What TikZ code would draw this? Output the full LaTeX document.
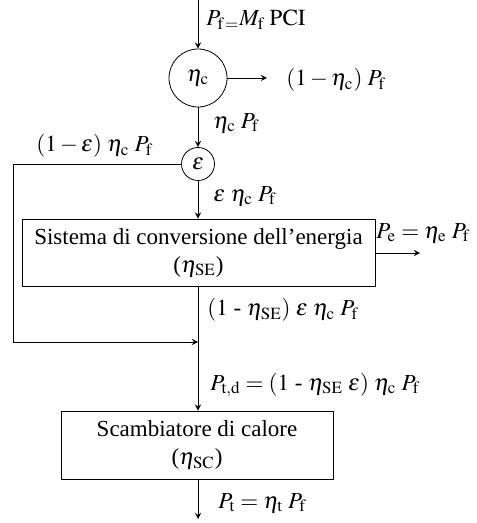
\documentclass[tikz,border=0pt]{standalone}
\usepackage{mathptmx}
\usepackage[no-math]{fontspec}
\setmainfont{Liberation Serif}
\begin{document}
\begin{tikzpicture}[>=stealth, x=0.5pt, y=-0.5pt, font=\fontsize{11.5}{14}\selectfont]
      \tikzset{blk/.style={draw, align=center, inner sep=0pt},
               junct/.style={draw, circle, inner sep=0pt},
               lbl/.style={anchor=west, inner sep=0pt}}
      \useasboundingbox (0,0) rectangle (476,523);
      % flussi
      \coordinate (in) at (198,0);
      \node[junct, minimum size=29pt] (comb) at (198,78) {$\eta_{\mathrm{c}}$};
      \coordinate (loss) at (267,78);
      \node[junct, minimum size=16.5pt] (eps) at (198,164) {$\varepsilon$};
      \node[blk, minimum width=176.5pt, minimum height=33.5pt] (conv) at (198.5,252.5) {Sistema di conversione dell'energia\\($\eta_{\mathrm{SE}}$)};
      \coordinate (elec) at (420,253);
      \coordinate (corner) at (13,342);
      \coordinate (junc) at (198,342);
      \node[blk, minimum width=136pt, minimum height=34pt] (scamb) at (197,445) {Scambiatore di calore\\($\eta_{\mathrm{SC}}$)};
      \coordinate (out) at (198,519);
      \draw[->] (in) -- (comb);
      \draw[->] (comb) -- (loss);
      \draw[->] (comb) -- (eps);
      \draw[->] (eps) -- (conv.north -| eps);
      \draw[->] (eps.west) -| (corner) -- (junc);
      \draw[->] (conv.east |- elec) -- (elec);
      \draw[->] (conv.south -| junc) -- (scamb.north -| junc);
      \draw[->] (scamb.south -| out) -- (out);
      % etichette
      \node[lbl] (lin) at (206,20) {$P_{\mathrm{f}\,=}M_{\mathrm{f}}\;\mathrm{PCI}$};
      \node[lbl] (lloss) at (286,80) {$(1-\eta_{\mathrm{c}})\;P_{\mathrm{f}}$};
      \node[lbl] (lcomb) at (213,123) {$\eta_{\mathrm{c}}\;P_{\mathrm{f}}$};
      \node[lbl] (lby) at (36,146) {$(1-\varepsilon)\;\eta_{\mathrm{c}}\;P_{\mathrm{f}}$};
      \node[lbl] (leps) at (213,196) {$\varepsilon\;\eta_{\mathrm{c}}\;P_{\mathrm{f}}$};
      \node[lbl] (lel) at (376,233) {$P_{\mathrm{e}}=\eta_{\mathrm{e}}\;P_{\mathrm{f}}$};
      \node[lbl] (lconv) at (207,310) {$(1$ - $\eta_{\mathrm{SE}})\;\varepsilon\;\eta_{\mathrm{c}}\;P_{\mathrm{f}}$};
      \node[lbl] (ltd) at (210,385) {$P_{\mathrm{t,d}}=(1$ - $\eta_{\mathrm{SE}}\;\varepsilon)\;\eta_{\mathrm{c}}\;P_{\mathrm{f}}$};
      \node[lbl] (lt) at (218,503) {$P_{\mathrm{t}}=\eta_{\mathrm{t}}\;P_{\mathrm{f}}$};
    \end{tikzpicture}
\end{document}
